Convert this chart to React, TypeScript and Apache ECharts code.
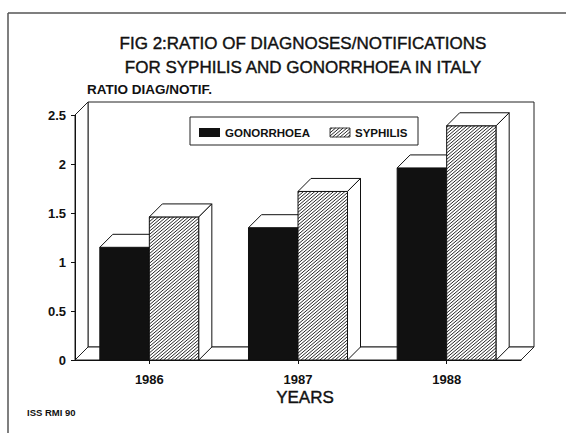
import React, { useEffect, useRef } from 'react';
import * as echarts from 'echarts';

const years = ['1986', '1987', '1988'];
const gonorrhoea = [1.15, 1.35, 1.96];
const syphilis = [1.46, 1.72, 2.39];
const yMax = 2.5;
const yInterval = 0.5;

const FONT = '"Liberation Sans", Arial, Helvetica, sans-serif';
const DEPTH = 13;
const INK = '#111';

function hatchSegments(x: number, y: number, w: number, h: number, step: number, k: number) {
  // lines y' + k*x' = c  (rising to the right on screen)
  const segs: number[][] = [];
  const cMin = y + k * x;
  const cMax = y + h + k * (x + w);
  for (let c = cMin + step / 2; c < cMax; c += step) {
    const xs = Math.max(x, (c - (y + h)) / k);
    const xe = Math.min(x + w, (c - y) / k);
    if (xe > xs) segs.push([xs, c - k * xs, xe, c - k * xe]);
  }
  return segs;
}

function hatchElements(x: number, y: number, w: number, h: number, z?: number) {
  return hatchSegments(x, y, w, h, 3.2, 0.85).map((s) => {
    const el: any = {
      type: 'line',
      shape: { x1: s[0], y1: s[1], x2: s[2], y2: s[3] },
      style: { stroke: INK, lineWidth: 0.9 },
      silent: true,
    };
    if (z !== undefined) el.z = z;
    return el;
  });
}

function makeBarRender(side: 'left' | 'right', hatched: boolean) {
  return (params: any, api: any) => {
    const i = api.value(0);
    const v = api.value(1);
    const top = api.coord([i, v]);
    const base = api.coord([i, 0]);
    const band = api.size([1, 0])[0];
    const bw = band * 0.333;
    const x0 = side === 'left' ? top[0] - bw : top[0];
    const x1 = x0 + bw;
    const yT = top[1];
    const yB = base[1];
    const children: any[] = [];
    children.push({
      type: 'rect',
      shape: { x: x0, y: yT, width: bw, height: yB - yT },
      style: { fill: hatched ? '#fff' : INK, stroke: INK, lineWidth: 1 },
    });
    if (hatched) children.push(...hatchElements(x0, yT, bw, yB - yT));
    children.push({
      type: 'polygon',
      shape: { points: [[x0, yT], [x0 + DEPTH, yT - DEPTH], [x1 + DEPTH, yT - DEPTH], [x1, yT]] },
      style: { fill: '#fff', stroke: INK, lineWidth: 1 },
    });
    if (side === 'right') {
      children.push({
        type: 'polygon',
        shape: { points: [[x1, yT], [x1 + DEPTH, yT - DEPTH], [x1 + DEPTH, yB - DEPTH], [x1, yB]] },
        style: { fill: '#fff', stroke: INK, lineWidth: 1 },
      });
    }
    return { type: 'group', children };
  };
}

function frameRender(params: any, api: any) {
  const band = api.size([1, 0])[0];
  const L = api.coord([0, 0])[0] - band / 2;
  const R = api.coord([years.length - 1, 0])[0] + band / 2;
  const yB = api.coord([0, 0])[1];
  const yT = api.coord([0, yMax])[1];
  const st = { fill: '#fff', stroke: '#222', lineWidth: 1 };
  return {
    type: 'group',
    children: [
      {
        type: 'rect',
        shape: { x: L + DEPTH, y: yT - DEPTH, width: R - L, height: yB - yT },
        style: st,
      },
      {
        type: 'polygon',
        shape: { points: [[L, yB], [L + DEPTH, yB - DEPTH], [L + DEPTH, yT - DEPTH], [L, yT]] },
        style: st,
      },
      {
        type: 'polygon',
        shape: { points: [[L, yB], [L + DEPTH, yB - DEPTH], [R + DEPTH, yB - DEPTH], [R, yB]] },
        style: st,
      },
    ],
  };
}

export default function App() {
  const ref = useRef<HTMLDivElement>(null);

  useEffect(() => {
    if (!ref.current) return;
    const chart = echarts.init(ref.current, undefined, { renderer: 'svg' });

    const LZ = 100;
    const option: any = {
      animation: false,
      backgroundColor: '#fff',
      textStyle: { fontFamily: FONT, color: INK },
      grid: { left: 75, right: 49, top: 115, bottom: 73, containLabel: false },
      xAxis: {
        type: 'category',
        data: years,
        axisLine: { show: true, lineStyle: { color: INK, width: 1 } },
        axisTick: { show: true, alignWithLabel: true, length: 4, lineStyle: { color: INK } },
        axisLabel: { fontFamily: FONT, fontWeight: 'bold', fontSize: 13, color: INK, margin: 13 },
        splitLine: { show: false },
        z: 1,
      },
      yAxis: {
        type: 'value',
        min: 0,
        max: yMax,
        interval: yInterval,
        axisLine: { show: true, lineStyle: { color: INK, width: 1 } },
        axisTick: { show: true, length: 4, lineStyle: { color: INK } },
        axisLabel: { fontFamily: FONT, fontWeight: 'bold', fontSize: 13, color: INK, margin: 9 },
        splitLine: { show: false },
        z: 5,
      },
      series: [
        {
          type: 'custom',
          name: 'frame',
          renderItem: frameRender,
          data: [[0, 0]],
          encode: { x: 0, y: 1 },
          clip: false,
          silent: true,
          z: 0,
        },
        {
          type: 'custom',
          name: 'GONORRHOEA',
          renderItem: makeBarRender('left', false),
          data: years.map((_, i) => [i, gonorrhoea[i]]),
          encode: { x: 0, y: 1 },
          clip: false,
          z: 2,
        },
        {
          type: 'custom',
          name: 'SYPHILIS',
          renderItem: makeBarRender('right', true),
          data: years.map((_, i) => [i, syphilis[i]]),
          encode: { x: 0, y: 1 },
          clip: false,
          z: 3,
        },
      ],
      graphic: [
        // scan border
        { type: 'line', shape: { x1: 8, y1: 13, x2: 566, y2: 13 }, style: { stroke: '#555', lineWidth: 1.5 }, z: LZ },
        { type: 'line', shape: { x1: 8, y1: 13, x2: 8, y2: 433 }, style: { stroke: '#555', lineWidth: 1.5 }, z: LZ },
        {
          type: 'text',
          x: 303,
          y: 43,
          style: {
            text: 'FIG 2:RATIO OF DIAGNOSES/NOTIFICATIONS',
            font: `17px ${FONT}`,
            fill: INK,
            stroke: INK,
            lineWidth: 0.4,
            textAlign: 'center',
            textVerticalAlign: 'middle',
          },
          z: LZ,
        },
        {
          type: 'text',
          x: 303,
          y: 67,
          style: {
            text: 'FOR SYPHILIS AND GONORRHOEA IN ITALY',
            font: `17px ${FONT}`,
            fill: INK,
            stroke: INK,
            lineWidth: 0.4,
            textAlign: 'center',
            textVerticalAlign: 'middle',
          },
          z: LZ,
        },
        {
          type: 'text',
          x: 87,
          y: 89,
          style: {
            text: 'RATIO DIAG/NOTIF.',
            font: `bold 13.5px ${FONT}`,
            fill: INK,
            textAlign: 'left',
            textVerticalAlign: 'middle',
          },
          z: LZ,
        },
        {
          type: 'text',
          x: 305,
          y: 397,
          style: {
            text: 'YEARS',
            font: `17px ${FONT}`,
            fill: INK,
            stroke: INK,
            lineWidth: 0.4,
            textAlign: 'center',
            textVerticalAlign: 'middle',
          },
          z: LZ,
        },
        {
          type: 'text',
          x: 27,
          y: 412,
          style: {
            text: 'ISS RMI 90',
            font: `bold 9.5px ${FONT}`,
            fill: INK,
            textAlign: 'left',
            textVerticalAlign: 'middle',
          },
          z: LZ,
        },
        // legend
        {
          type: 'rect',
          shape: { x: 190, y: 117, width: 228, height: 28 },
          style: { fill: '#fff', stroke: '#222', lineWidth: 1 },
          z: LZ,
        },
        {
          type: 'rect',
          shape: { x: 199, y: 128, width: 21, height: 9 },
          style: { fill: INK },
          z: LZ + 1,
        },
        {
          type: 'text',
          x: 225,
          y: 133,
          style: {
            text: 'GONORRHOEA',
            font: `bold 11.5px ${FONT}`,
            fill: INK,
            textAlign: 'left',
            textVerticalAlign: 'middle',
          },
          z: LZ + 1,
        },
        {
          type: 'rect',
          shape: { x: 330, y: 128, width: 20, height: 9 },
          style: { fill: '#fff', stroke: INK, lineWidth: 0.8 },
          z: LZ + 1,
        },
        ...hatchElements(330, 128, 20, 9, LZ + 2),
        {
          type: 'text',
          x: 355,
          y: 133,
          style: {
            text: 'SYPHILIS',
            font: `bold 11.5px ${FONT}`,
            fill: INK,
            textAlign: 'left',
            textVerticalAlign: 'middle',
          },
          z: LZ + 1,
        },
      ],
    };

    chart.setOption(option);
    return () => chart.dispose();
  }, []);

  return <div ref={ref} style={{ width: 570, height: 433, position: 'absolute', left: 0, top: 0 }} />;
}
